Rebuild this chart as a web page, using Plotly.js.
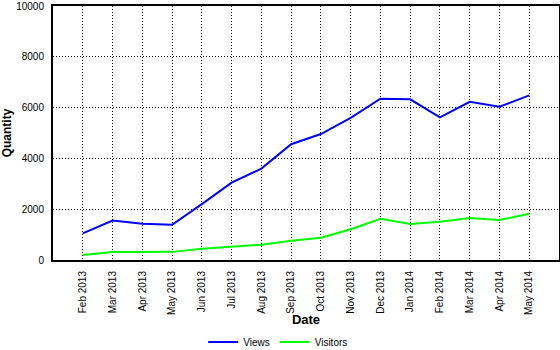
<!DOCTYPE html>
<html>
<head>
<meta charset="utf-8">
<script src="https://cdn.plot.ly/plotly-3.0.1.min.js"></script>
<style>html,body{margin:0;padding:0;background:#fff;}#chart{width:560px;height:350px;}</style>
</head>
<body>
<div id="chart"></div>
<script>
const months = ["Feb 2013","Mar 2013","Apr 2013","May 2013","Jun 2013","Jul 2013","Aug 2013","Sep 2013","Oct 2013","Nov 2013","Dec 2013","Jan 2014","Feb 2014","Mar 2014","Apr 2014","May 2014"];
const views = [1050,1550,1430,1390,2200,3045,3600,4560,4960,5600,6350,6325,5620,6230,6035,6480];
const visitors = [197,315,315,320,445,525,600,760,880,1210,1625,1417,1510,1655,1575,1825];
const yTicks = [0,2000,4000,6000,8000,10000];

const font = {family: "Liberation Sans, Arial, sans-serif", size: 10, color: "#000"};
const traces = [
  {x: months, y: views, name: "Views", type: "scatter", mode: "lines", line: {color: "#0000FF", width: 2}},
  {x: months, y: visitors, name: "Visitors", type: "scatter", mode: "lines", line: {color: "#00FF00", width: 2}}
];
const layout = {
  width: 560, height: 350,
  margin: {l: 53, r: 1, t: 6, b: 90, autoexpand: false},
  paper_bgcolor: "#fff", plot_bgcolor: "#fff",
  font: font,
  showlegend: true,
  legend: {orientation: "h", x: 0.445, xanchor: "center", yref: "container", y: 0.023, yanchor: "middle", font: {size: 10}, itemwidth: 30, tracegroupgap: 0},
  xaxis: {
    type: "category", range: [-1, 16],
    tickangle: -90, showgrid: true, gridcolor: "#000", griddash: "1px,2px", gridwidth: 1,
    showline: true, linecolor: "#000", linewidth: 2, mirror: true,
    ticks: "outside", ticklen: 5, tickcolor: "rgba(0,0,0,0)",
    zeroline: false,
    title: {text: "Date", font: {size: 13, family: "Liberation Sans, Arial, sans-serif", weight: "bold"}, standoff: 6},
    automargin: false
  },
  yaxis: {
    range: [0, 10001], tickvals: yTicks, ticktext: yTicks.map(String),
    showgrid: true, gridcolor: "#000", griddash: "1px,2px", gridwidth: 1,
    showline: true, linecolor: "#000", linewidth: 2, mirror: true,
    ticks: "outside", ticklen: 5, tickcolor: "rgba(0,0,0,0)",
    zeroline: false,
    title: {text: "Quantity", font: {size: 12, family: "Liberation Sans, Arial, sans-serif", weight: "bold"}, standoff: 8},
    automargin: false
  }
};
Plotly.newPlot("chart", traces, layout, {staticPlot: true, displayModeBar: false});
</script>
</body>
</html>
